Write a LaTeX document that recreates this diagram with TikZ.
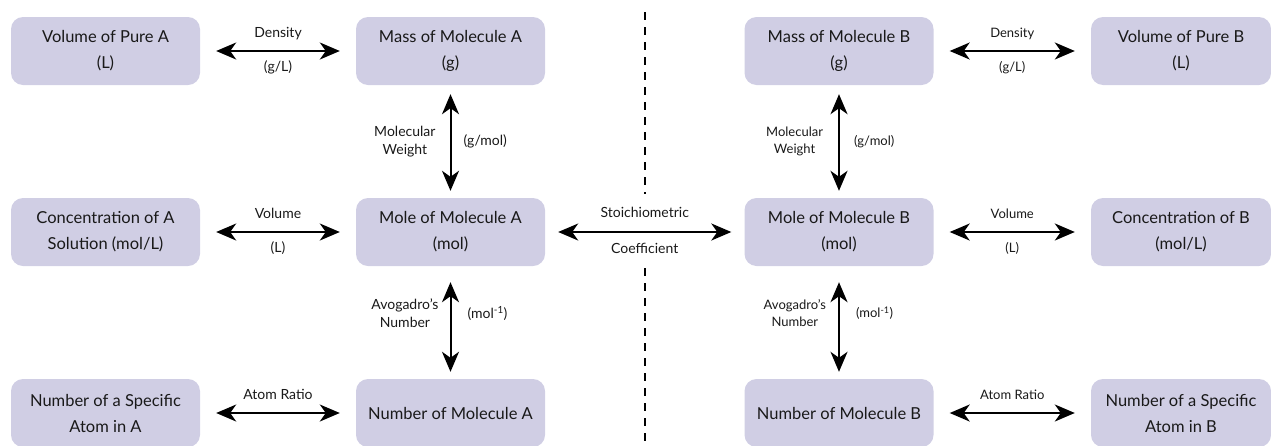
\documentclass[tikz,border=0pt]{standalone}
\usepackage{fontspec}
\setmainfont{Lato}
\definecolor{boxlav}{RGB}{208, 206, 228}
\definecolor{inkdark}{RGB}{25, 25, 25}
\usetikzlibrary{arrows.meta, positioning, calc}

\tikzset{
  unitbox/.style={fill=boxlav, rounded corners=12pt, minimum width=189pt, minimum height=68pt,
    align=center, inner sep=0pt, text=inkdark, font=\fontsize{16.5}{26}\selectfont},
  convarrow/.style={{Stealth[length=20pt,width=17pt,inset=6pt]}-{Stealth[length=20pt,width=17pt,inset=6pt]},
    line width=2pt},
  sidelabel/.style={font=\fontsize{14}{18}\selectfont, align=center, inner sep=0pt, text=inkdark},
  sidelabelB/.style={sidelabel, font=\fontsize{13}{17}\selectfont},
  convlabel/.style={sidelabel, text height=9.5pt, text depth=3pt},
  convlabelB/.style={sidelabelB, text height=9pt, text depth=3pt},
  divider/.style={line width=2pt, dash pattern=on 8pt off 7pt}
}

\begin{document}
\begin{tikzpicture}[x=1pt, y=-1pt]
  \useasboundingbox (0,0) rectangle (1271,445);

  % Molecule A side
  \node[unitbox] (volA)  at (105.5,51)  {Volume of Pure A\\(L)};
  \node[unitbox] (massA) at (450.5,51)  {Mass of Molecule A\\(g)};
  \node[unitbox] (concA) at (105.5,232) {Concentration of A\\Solution (mol/L)};
  \node[unitbox] (moleA) at (450.5,232) {Mole of Molecule A\\(mol)};
  \node[unitbox] (atomA) at (105.5,413) {Number of a Specific\\Atom in A};
  \node[unitbox] (numA)  at (450.5,413) {Number of Molecule A};

  % Molecule B side
  \node[unitbox] (massB) at (839,51)  {Mass of Molecule B\\(g)};
  \node[unitbox, minimum width=180pt] (volB)  at (1181,51)  {Volume of Pure B\\(L)};
  \node[unitbox] (moleB) at (839,232) {Mole of Molecule B\\(mol)};
  \node[unitbox, minimum width=180pt] (concB) at (1181,232) {Concentration of B\\(mol/L)};
  \node[unitbox] (numB)  at (839,413) {Number of Molecule B};
  \node[unitbox, minimum width=180pt] (atomB) at (1181,413) {Number of a Specific\\Atom in B};

  % Conversions on side A
  \draw[convarrow, shorten <=16pt, shorten >=16pt] (volA) --
    node[convlabel, above=10pt] (densA) {Density}
    node[convlabel, below=10pt] (densuA) {(g/L)} (massA);
  \draw[convarrow, shorten <=16pt, shorten >=16pt] (concA) --
    node[convlabel, above=10pt] (voluA) {Volume}
    node[convlabel, below=10pt] (voluuA) {(L)} (moleA);
  \draw[convarrow, shorten <=16pt, shorten >=16pt] (atomA) --
    node[convlabel, above=10pt] (ratioA) {Atom Ratio} (numA);
  \draw[convarrow, shorten <=9pt, shorten >=7pt] (massA) --
    node[sidelabel, left=14pt] (mwA) {Molecular\\Weight}
    node[sidelabel, right=12pt] (mwuA) {(g/mol)} (moleA);
  \draw[convarrow, shorten <=16pt, shorten >=7pt] (moleA) --
    node[sidelabel, pos=0.42, left=11pt] (avoA) {Avogadro’s\\Number}
    node[sidelabel, pos=0.42, right=16pt] (avouA) {(mol\textsuperscript{-1})} (numA);

  % Conversions on side B
  \draw[convarrow, shorten <=16pt, shorten >=16pt] (massB) --
    node[convlabelB, above=10pt] (densB) {Density}
    node[convlabelB, below=10pt] (densuB) {(g/L)} (volB);
  \draw[convarrow, shorten <=16pt, shorten >=16pt] (moleB) --
    node[convlabelB, above=10pt] (voluB) {Volume}
    node[convlabelB, below=10pt] (voluuB) {(L)} (concB);
  \draw[convarrow, shorten <=16pt, shorten >=16pt] (numB) --
    node[convlabelB, above=10pt] (ratioB) {Atom Ratio} (atomB);
  \draw[convarrow, shorten <=9pt, shorten >=7pt] (massB) --
    node[sidelabelB, left=15pt] (mwB) {Molecular\\Weight}
    node[sidelabelB, right=14pt] (mwuB) {(g/mol)} (moleB);
  \draw[convarrow, shorten <=16pt, shorten >=7pt] (moleB) --
    node[sidelabelB, pos=0.42, left=12pt] (avoB) {Avogadro’s\\Number}
    node[sidelabelB, pos=0.42, right=16pt] (avouB) {(mol\textsuperscript{-1})} (numB);

  % Between the two sides
  \draw[convarrow, shorten <=13pt, shorten >=13pt] (moleA) --
    node[convlabel, above=11pt] (stoich) {Stoichiometric}
    node[convlabel, below=11pt] (coeff) {Coefficient} (moleB);
  \coordinate (divtop) at (645,12);
  \coordinate (divup) at (645,194);
  \coordinate (divlow) at (645,268);
  \coordinate (divbot) at (645,445);
  \draw[divider] (divtop) -- (divup);
  \draw[divider] (divlow) -- (divbot);
\end{tikzpicture}
\end{document}
